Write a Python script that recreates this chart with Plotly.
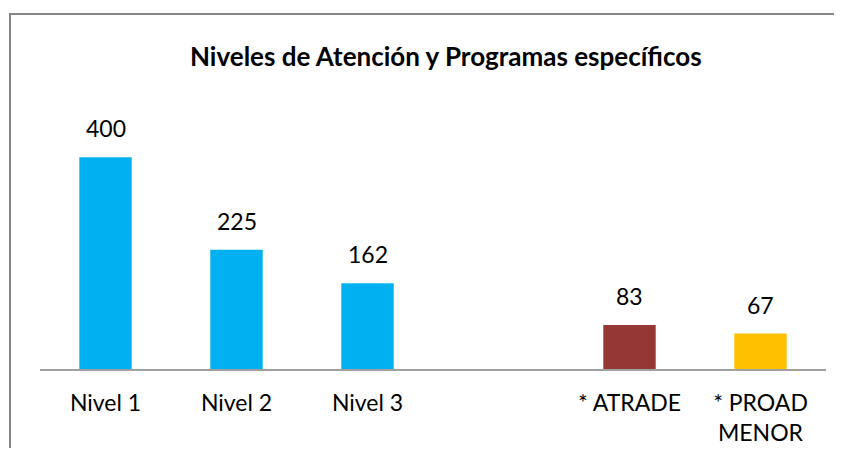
import plotly.graph_objects as go

categories = ["Nivel 1", "Nivel 2", "Nivel 3", " ", "* ATRADE", "* PROAD<br>MENOR"]
values = [400, 225, 162, None, 83, 67]
bar_colors = ["#00B0F0", "#00B0F0", "#00B0F0", "#00B0F0", "#953735", "#FFC000"]
title_text = "Niveles de Atención y Programas específicos"

# page body has an 8px margin; lay the figure out in reference pixel coords minus 8,
# keeping the page inside the window so no scrollbar appears
OFF = 8
W, H = 842 - 2 * OFF, 460 - 2 * OFF - 4
ML, MR, MT = 40 - OFF, 8, 136 - OFF
PH = 369 - 136
MB = H - MT - PH
PW = W - ML - MR
YMAX = 440

def px_to_paper_x(px):
    return (px - OFF - ML) / PW

def px_to_paper_y(py):
    return (H - MB - (py - OFF)) / PH

fig = go.Figure()
fig.add_trace(go.Bar(
    x=categories, y=values, marker=dict(color=bar_colors, line=dict(width=0)),
    width=0.4, hoverinfo="x+y",
))

for c, v in zip(categories, values):
    if v is None:
        continue
    fig.add_annotation(x=c, y=v, text=str(v), showarrow=False, yanchor="bottom",
                       yshift=13, font=dict(family="Lato", size=23, color="#000000"))

fig.add_annotation(x=px_to_paper_x(446), y=px_to_paper_y(56), xref="paper", yref="paper",
                   text="<b>" + title_text + "</b>", showarrow=False,
                   xanchor="center", yanchor="middle",
                   font=dict(family="Lato", size=26, color="#000000"))

# chart frame (left and top edges; the rest lies outside the picture)
fx0, fx1 = px_to_paper_x(10), px_to_paper_x(842)
fy0, fy1 = px_to_paper_y(460), px_to_paper_y(14)
fig.add_shape(type="path", xref="paper", yref="paper",
              path=f"M {fx0},{fy0} L {fx0},{fy1} L {fx1},{fy1}",
              line=dict(color="#868686", width=2), layer="below")

fig.update_layout(
    width=W, height=H, margin=dict(l=ML, r=MR, t=MT, b=MB, autoexpand=False),
    paper_bgcolor="white", plot_bgcolor="white",
    showlegend=False,
    font=dict(family="Lato", size=23, color="#000000"),
    xaxis=dict(type="category", showline=True, linecolor="#A0A0A0", linewidth=2,
               ticks="", showgrid=False, zeroline=False, tickfont=dict(size=23),
               ticklabelstandoff=12, range=[-0.5, 5.5], automargin=False),
    yaxis=dict(visible=False, range=[0, YMAX], showgrid=False, zeroline=False,
               automargin=False),
)

fig.write_html("out.html")
